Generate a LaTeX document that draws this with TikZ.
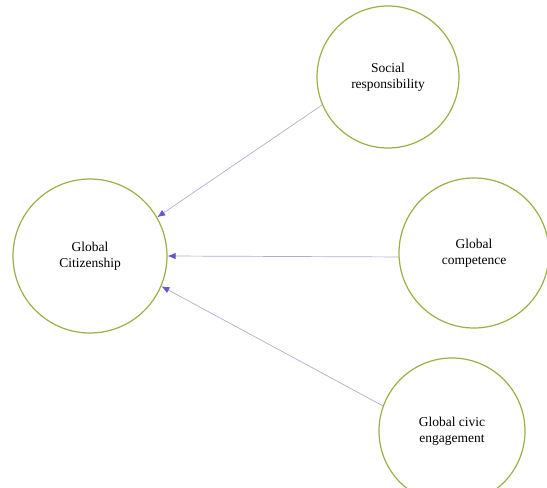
\documentclass[tikz,border=0pt]{standalone}
\usepackage{fontspec}
\setmainfont{Liberation Serif}
\usetikzlibrary{arrows.meta}
\definecolor{ringgreen}{RGB}{150,178,70}
\definecolor{linegray}{RGB}{175,175,210}
\definecolor{tippurple}{RGB}{105,85,205}
\tikzset{
  ring/.style={circle, draw=ringgreen, line width=1.2pt, align=center, font=\fontsize{13.5}{16}\selectfont, inner sep=0pt},
  link/.style={draw=linegray, line width=0.7pt, -{Latex[length=8pt,width=6.5pt,color=tippurple]}}
}
\begin{document}
\begin{tikzpicture}[x=1pt,y=-1pt]
\useasboundingbox (0,0) rectangle (547,488);
\node[ring, minimum size=154pt] (gc) at (90,256) {Global\\Citizenship};
\node[ring, minimum size=142pt] (sr) at (388,77) {Social\\responsibility};
\node[ring, minimum size=150pt] (co) at (474,253) {Global\\competence};
\node[ring, minimum size=146pt] (ce) at (452,431) {Global civic\\engagement};
\draw[link] (sr.203) -- (gc.30);
\draw[link] (co.183) -- (gc.0);
\draw[link] (ce.160) -- (gc.-23);
\end{tikzpicture}
\end{document}
